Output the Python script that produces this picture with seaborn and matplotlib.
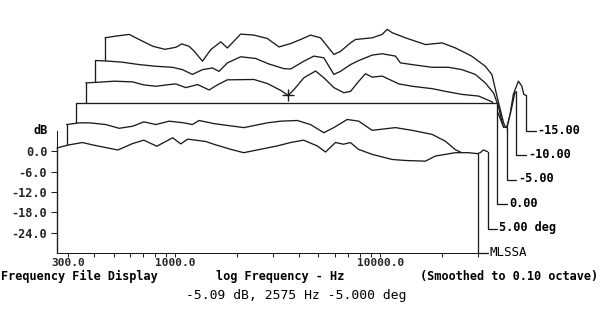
import matplotlib
matplotlib.use("Agg")
import matplotlib.pyplot as plt
import matplotlib.transforms as mtransforms
from matplotlib.ticker import FixedLocator, FixedFormatter, NullFormatter
import seaborn as sns
import pandas as pd

sns.set_style("white")
plt.rcParams['font.family'] = ['DejaVu Sans Mono', 'DejaVu Sans']

# ---------------- data ----------------
# front trace (drawn on the axes themselves)
f_front = [265, 303, 353, 395, 459, 525, 620, 703, 813, 972, 1064, 1151, 1409, 1541,
           1864, 2157, 2609, 3145, 3655, 4230, 4930, 5410, 6050, 6620, 7160, 7830,
           9140, 11430, 13270, 16610, 18580, 23240, 26900, 30000]
db_front = [1.0, 1.9, 2.6, 1.9, 1.1, 0.4, 2.3, 3.3, 1.5, 4.0, 2.2, 3.6, 2.9, 2.1,
            0.6, -0.4, 0.6, 1.6, 2.6, 3.3, 1.6, -0.2, 2.6, 2.1, 2.6, 0.6,
            -0.9, -2.4, -2.7, -2.9, -1.4, -0.4, -0.4, -0.7]

f_p5 = [265, 305, 344, 412, 478, 556, 631, 722, 838, 991, 1089, 1173, 1264, 1383, 1497,
        1943, 2524, 2931, 3535, 4105, 4764, 5331, 6196, 7057, 8200, 10650, 12840, 16080,
        18660, 20870, 22600, 24720, 27620, 28580, 30000]
db_p5 = [0.7, 1.2, 1.2, 0.7, -0.4, 0.2, 1.5, 0.7, 1.7, 1.2, 0.7, 1.9, 1.5, 1.0, 0.7,
         -0.2, 1.2, 1.7, 1.9, 0.7, -1.7, -0.2, 2.2, 1.7, -1.0, -0.2, -1.0, -2.2,
         -4.2, -6.7, -7.7, -8.5, -7.6, -6.8, -7.3]

f_0 = [265, 30000]
db_0 = [0.0, 0.0]

f_m5 = [265, 308, 365, 448, 508, 582, 676, 728, 815, 931, 1058, 1162, 1299, 1752, 2038,
        2365, 2575, 2745, 3070, 3500, 3844, 4300, 4808, 5185, 5692, 6132, 6613, 7400,
        8920, 10360, 12960, 15040, 18150, 21870, 25430, 27300, 28900, 30000]
db_m5 = [-1.4, -1.2, -0.9, -1.1, -2.0, -2.4, -1.9, -1.7, -2.8, -1.9, -3.5, -2.0, -0.5,
         -0.4, -1.6, -3.6, -5.09, -3.4, 0.1, 2.1, 0.1, -2.8, -4.3, -3.9, -0.9, 1.3, 0.3,
         0.6, -1.7, -2.4, -3.1, -3.9, -4.8, -5.3, -7.0, -10.5, -14.5, -14.5]

f_m10 = [265, 309, 359, 433, 522, 630, 705, 788, 882, 987, 1063, 1167, 1356, 1604, 1855,
         2203, 2375, 2757, 3084, 3450, 3859, 4158, 4653, 5110, 5940, 6640, 7710, 8150,
         9290, 11630, 14020, 16290, 18910, 21150, 23220, 24510, 25950, 26850, 28200,
         29500, 30000]
db_m10 = [-2.0, -2.2, -2.5, -3.2, -3.7, -4.0, -4.7, -6.1, -4.7, -4.2, -5.2, -2.7, -0.9,
          -1.4, -3.0, -4.4, -4.5, -2.2, -0.7, -1.2, -6.1, -5.2, -3.2, -2.0, -0.4, 0.0,
          -0.7, -2.7, -3.2, -4.0, -4.0, -4.7, -6.1, -8.6, -11.6, -15.5, -22.0, -22.5,
          -17.0, -11.5, -11.2]

f_m15 = [265, 299, 348, 389, 454, 519, 587, 628, 681, 718, 792, 869, 972, 1048, 1216,
         1412, 1641, 1870, 2132, 2385, 2666, 2983, 3465, 3735, 4178, 4418, 5330, 5960,
         6310, 6670, 7740, 9690, 11690, 13580, 15710, 16370, 19000, 20470, 21660, 23350,
         24060, 25070, 26020, 27530, 28590, 29280, 30000]
db_m15 = [-2.5, -2.0, -1.5, -3.0, -5.0, -5.9, -5.3, -4.3, -5.0, -6.3, -9.4, -6.0, -3.7,
          -5.5, -1.4, -1.7, -2.7, -5.2, -4.2, -3.0, -1.7, -2.5, -7.4, -6.5, -4.0, -3.0,
          -2.5, -1.5, 0.0, -1.0, -2.5, -4.5, -4.0, -5.5, -7.4, -8.0, -10.9, -13.4,
          -19.8, -27.7, -29.4, -25.2, -19.2, -15.3, -16.7, -19.2, -19.5]

trace_labels = ["MLSSA", "5.00 deg", "0.00", "-5.00", "-10.00", "-15.00"]
trace_freqs = [f_front, f_p5, f_0, f_m5, f_m10, f_m15]
trace_dbs = [db_front, db_p5, db_0, db_m5, db_m10, db_m15]

cursor_hz = 2575
cursor_db = -5.09
cursor_deg = -5.000

x_major = [300, 1000, 10000]
x_major_labels = ["300.0", "1000.0", "10000.0"]
x_minor = [400, 500, 600, 700, 800, 900, 2000, 3000, 4000, 5000, 6000, 7000, 8000,
           9000, 20000, 30000]
y_ticks = [0, -6, -12, -18, -24]
y_tick_labels = ["0.0", "-6.0", "-12.0", "-18.0", "-24.0"]
X_MIN, X_MAX = 265, 30000
Y_MIN, Y_MAX = -30, 6

# ---------------- layout ----------------
DPI = 100
W, H = 600, 328
fig = plt.figure(figsize=(W / DPI, H / DPI), dpi=DPI)
fig.patch.set_facecolor('white')
AX_L, AX_R, AX_B, AX_T = 57, 478, 253, 131
ax = fig.add_axes([AX_L / W, (H - AX_B) / H, (AX_R - AX_L) / W, (AX_B - AX_T) / H])
ax.set_facecolor('none')
ax.set_xscale('log')
ax.set_xlim(X_MIN, X_MAX)
ax.set_ylim(Y_MIN, Y_MAX)

DX, DY = 9.6, 24.4          # pixel step between successive traces
lead_fac = (X_MAX / X_MIN) ** (DX / (AX_R - AX_L))
LINE_C = '#1c1c1c'
LW = 0.95
FS = 8.6
bold = dict(family='DejaVu Sans Mono', weight='bold', size=FS, color='black')

n = len(trace_freqs)
for k in reversed(range(n)):
    f = trace_freqs[k]
    db = trace_dbs[k]
    off = mtransforms.ScaledTranslation(k * DX / DPI, k * DY / DPI, fig.dpi_scale_trans)
    T = ax.transData + off
    z = 10 + (n - 1 - k) * 3
    ax.fill([f[0]] + f + [f[-1]], [Y_MIN] + db + [Y_MIN], transform=T,
            facecolor='white', edgecolor='none', zorder=z, clip_on=False)
    df = pd.DataFrame({'freq': f, 'dB': db})
    sns.lineplot(data=df, x='freq', y='dB', ax=ax, estimator=None, sort=False,
                 color=LINE_C, lw=LW, zorder=z + 1, clip_on=False, transform=T)
    ax.plot([f[0], f[0]], [Y_MIN, db[0]], transform=T, color=LINE_C, lw=LW,
            zorder=z + 1, clip_on=False)
    ax.plot([f[-1], f[-1], f[-1] * lead_fac], [db[-1], Y_MIN, Y_MIN], transform=T,
            color=LINE_C, lw=LW, zorder=z + 1, clip_on=False, solid_joinstyle='miter')
    if k == 3:
        ax.plot([cursor_hz], [cursor_db], marker='+', ms=8, mew=1.0, color=LINE_C,
                transform=T, zorder=z + 2, clip_on=False)
    Tl = ax.transData + mtransforms.ScaledTranslation((k * DX + DX + 2) / DPI,
                                                      (k * DY + 1) / DPI,
                                                      fig.dpi_scale_trans)
    props = dict(bold)
    if k == 0:
        props['weight'] = 'normal'
        props['size'] = 9
    ax.text(f[-1], Y_MIN, trace_labels[k], transform=Tl, ha='left', va='center',
            zorder=40, **props)

ax.set_xlabel('')
ax.set_ylabel('')
for s in ['top', 'right']:
    ax.spines[s].set_visible(False)
for s in ['left', 'bottom']:
    ax.spines[s].set_color(LINE_C)
    ax.spines[s].set_linewidth(0.75)
    ax.spines[s].set_zorder(50)

ax.xaxis.set_major_locator(FixedLocator(x_major))
ax.xaxis.set_major_formatter(FixedFormatter(x_major_labels))
ax.xaxis.set_minor_locator(FixedLocator(x_minor))
ax.xaxis.set_minor_formatter(NullFormatter())
ax.yaxis.set_major_locator(FixedLocator(y_ticks))
ax.yaxis.set_major_formatter(FixedFormatter(y_tick_labels))
ax.tick_params(axis='x', which='both', direction='out', length=3, width=0.75,
               color=LINE_C, pad=0.3, bottom=True)
ax.tick_params(axis='y', which='major', direction='out', length=4.3, width=0.75,
               color=LINE_C, pad=2.8, left=True)
for lab in ax.get_xticklabels():
    lab.set_fontfamily('DejaVu Sans Mono')
    lab.set_fontweight('bold')
    lab.set_fontsize(8.1)
for lab in ax.get_yticklabels():
    lab.set_fontfamily('DejaVu Sans Mono')
    lab.set_fontweight('bold')
    lab.set_fontsize(FS)

ax.text(-9 / (AX_R - AX_L), Y_MAX, 'dB', transform=ax.get_yaxis_transform(),
        ha='right', va='center', **bold)

yb = (H - 280) / H
fig.text(0.002, yb, 'Frequency File Display', ha='left', va='baseline', **bold)
fig.text(216 / W, yb, 'log Frequency - Hz', ha='left', va='baseline', **bold)
fig.text(598 / W, yb, '(Smoothed to 0.10 octave)', ha='right', va='baseline', **bold)
fig.text(296 / W, (H - 295) / H,
         f'{cursor_db:.2f} dB, {cursor_hz} Hz {cursor_deg:.3f} deg',
         ha='center', va='center', family='DejaVu Sans Mono', size=9.4, color='black')

fig.savefig('out.png', dpi=DPI, facecolor='white')
